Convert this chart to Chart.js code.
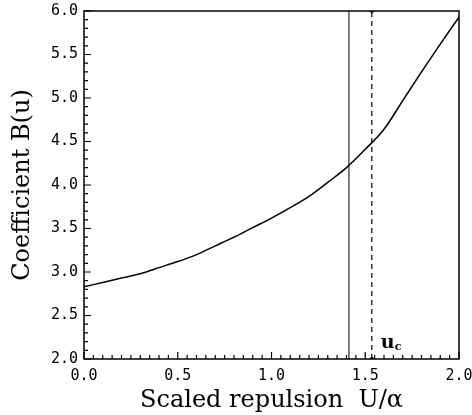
<!DOCTYPE html>
<html><head><meta charset="utf-8">
<script src="https://cdn.jsdelivr.net/npm/chart.js@4"></script>
<style>html,body{margin:0;padding:0;background:#fff}#c{display:block}</style>
</head><body>
<div style="width:472px;height:415px"><canvas id="c" width="472" height="415"></canvas></div>
<script>
const uValues = [0.0,0.1,0.2,0.3,0.4,0.5,0.6,0.7,0.8,0.9,1.0,1.1,1.2,1.3,1.4,1.5,1.6,1.7,1.8,1.9,2.0];
const bValues = [2.83,2.88,2.93,2.98,3.05,3.12,3.20,3.30,3.40,3.51,3.62,3.74,3.87,4.03,4.20,4.41,4.64,4.97,5.30,5.62,5.93];
const solidLineU = 1.413;
const criticalU = 1.535;
const xTickLabels = ['0.0','0.5','1.0','1.5','2.0'];
const yTickLabels = ['2.0','2.5','3.0','3.5','4.0','4.5','5.0','5.5','6.0'];
const xTitle = 'Scaled repulsion  U/\u03b1';
const yTitle = 'Coefficient B(u)';

const curve = uValues.map((u,i)=>({x:u,y:bValues[i]}));

const frameTicks = {
  id:'frameTicks',
  afterDatasetsDraw(chart){
    const {ctx, chartArea:a, scales:{x,y}} = chart;
    ctx.save();
    ctx.strokeStyle='#000';
    ctx.lineWidth=1.5;
    ctx.strokeRect(a.left,a.top,a.right-a.left,a.bottom-a.top);
    ctx.lineWidth=1.2;
    ctx.beginPath();
    for(let i=0;i<=40;i++){
      const v=i*0.05, px=x.getPixelForValue(v);
      const len = (i%10===0)?7:4;
      ctx.moveTo(px,a.bottom); ctx.lineTo(px,a.bottom-len);
    }
    for(let i=0;i<=40;i++){
      const v=2+i*0.1, py=y.getPixelForValue(v);
      const len = (i%5===0)?7:4;
      ctx.moveTo(a.left,py); ctx.lineTo(a.left+len,py);
    }
    ctx.stroke();
    // u_c label
    const lx = x.getPixelForValue(criticalU)+9, ly = a.bottom-11;
    ctx.fillStyle='#000';
    ctx.font='bold 19px "DejaVu Serif"';
    ctx.textBaseline='alphabetic';
    ctx.fillText('u',lx,ly);
    const w=ctx.measureText('u').width;
    ctx.font='bold 11px "DejaVu Serif"';
    ctx.fillText('c',lx+w,ly+2);
    ctx.restore();
  }
};

new Chart(document.getElementById('c'),{
  type:'scatter',
  data:{datasets:[
    {data:curve,showLine:true,borderColor:'#000',borderWidth:1.5,pointRadius:0,tension:0.3,cubicInterpolationMode:'monotone'},
    {data:[{x:solidLineU,y:2},{x:solidLineU,y:6}],showLine:true,borderColor:'#000',borderWidth:1,pointRadius:0},
    {data:[{x:criticalU,y:2},{x:criticalU,y:6}],showLine:true,borderColor:'#000',borderWidth:1.2,borderDash:[5,4],pointRadius:2,pointBackgroundColor:'#000',pointBorderWidth:0}
  ]},
  options:{
    responsive:false,animation:false,
    layout:{padding:{left:0,right:13,top:11,bottom:0}},
    plugins:{legend:{display:false},tooltip:{enabled:false}},
    scales:{
      x:{type:'linear',min:0,max:2,
        afterFit(s){s.height=56;s.paddingLeft=0;s.paddingRight=0;},
        grid:{display:false,drawTicks:false},border:{display:false},
        ticks:{stepSize:0.5,padding:8,color:'#000',font:{family:'DejaVu Sans Mono',size:15},
          callback:(v,i)=>xTickLabels[i],maxRotation:0,autoSkip:false},
        title:{display:true,text:xTitle,color:'#000',font:{family:'DejaVu Serif',size:24},padding:{top:3,bottom:0}}
      },
      y:{type:'linear',min:2,max:6,
        afterFit(s){s.width=84;s.paddingTop=0;s.paddingBottom=0;},
        grid:{display:false,drawTicks:false},border:{display:false},
        ticks:{stepSize:0.5,padding:6,color:'#000',font:{family:'DejaVu Sans Mono',size:15},
          callback:(v,i)=>yTickLabels[i],autoSkip:false},
        title:{display:true,text:yTitle,color:'#000',font:{family:'DejaVu Serif',size:24},padding:{top:8,bottom:4}}
      }
    }
  },
  plugins:[frameTicks]
});
</script>
</body></html>
